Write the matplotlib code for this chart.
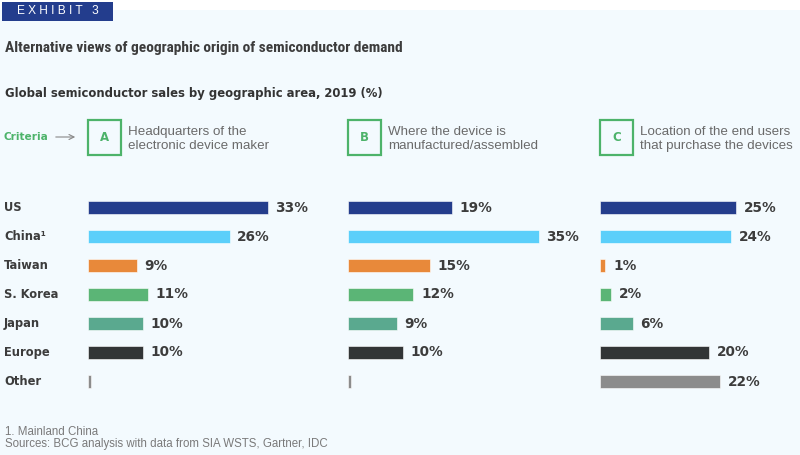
import matplotlib.pyplot as plt
import matplotlib.transforms as mtransforms
from matplotlib.patches import Rectangle, FancyArrowPatch

# data read from the exhibit
regions = ["US", "China\u00b9", "Taiwan", "S. Korea", "Japan", "Europe", "Other"]
colors = ["#243d8c", "#5bcffa", "#e8893a", "#5bb576", "#5aa98f", "#323536", "#8c8c8c"]
hq_maker = [33, 26, 9, 11, 10, 10, 0.6]
manufactured = [19, 35, 15, 12, 9, 10, 0.6]
end_users = [25, 24, 1, 2, 6, 20, 22]
hq_labels = ["33%", "26%", "9%", "11%", "10%", "10%", ""]
mfg_labels = ["19%", "35%", "15%", "12%", "9%", "10%", ""]
end_labels = ["25%", "24%", "1%", "2%", "6%", "20%", "22%"]

criteria = [
    ("A", "Headquarters of the\nelectronic device maker"),
    ("B", "Where the device is\nmanufactured/assembled"),
    ("C", "Location of the end users\nthat purchase the devices"),
]

BG = "#f3fafe"
TXT = "#3c3c3c"
GREEN = "#4db36a"
W, H = 800, 455


def fx(x):
    return x / W


def fy(y):
    return 1 - y / H


fig = plt.figure(figsize=(8, 4.55), dpi=100)
fig.patch.set_facecolor("white")
fig.patches.append(Rectangle((0, 0), 1, fy(10), transform=fig.transFigure,
                             facecolor=BG, edgecolor="none", zorder=-5))

# exhibit tag
fig.patches.append(Rectangle((fx(2), fy(21)), fx(111), 19 / H, transform=fig.transFigure,
                             facecolor="#233d8d", edgecolor="none", zorder=1))
fig.text(fx(58), fy(11.5), "E X H I B I T   3", color="white", fontsize=8.6,
         family="Liberation Sans", ha="center", va="center")

fig.text(fx(5), fy(48), "Alternative views of geographic origin of semiconductor demand",
         fontsize=11.1, color=TXT, weight="bold", stretch="condensed",
         family=["Noto Sans Condensed", "Roboto Condensed", "Open Sans Condensed",
                 "Liberation Sans Narrow", "DejaVu Sans Condensed", "Noto Sans"],
         ha="left", va="center")
fig.text(fx(5), fy(93), "Global semiconductor sales by geographic area, 2019 (%)",
         fontsize=8.4, color="#333333", weight="bold", family="DejaVu Sans",
         ha="left", va="center")

# criteria row
fig.text(fx(3), fy(137), "Criteria", fontsize=7.6, color=GREEN, weight="bold",
         family="DejaVu Sans", ha="left", va="center")
fig.patches.append(FancyArrowPatch((fx(53), fy(137)), (fx(78), fy(137)),
                                   transform=fig.transFigure, arrowstyle="->",
                                   mutation_scale=9, color="#888888", lw=0.8))

panel_x = [88, 348, 600]
for x0, (letter, desc) in zip(panel_x, criteria):
    fig.patches.append(Rectangle((fx(x0), fy(155)), fx(33), 35 / H, transform=fig.transFigure,
                                 facecolor="none", edgecolor=GREEN, lw=1.6))
    fig.text(fx(x0 + 16.5), fy(137.5), letter, fontsize=8.5, color=GREEN, weight="bold",
             family="DejaVu Sans", ha="center", va="center")
    fig.text(fx(x0 + 40), fy(139), desc, fontsize=9.6, color="#6a6a6a",
             family="Liberation Sans", ha="left", va="center", linespacing=1.3)

# bar panels
scale = 5.45  # px per percentage point
xmax = 36
series = [(hq_maker, hq_labels), (manufactured, mfg_labels), (end_users, end_labels)]
axes = []
for x0, (vals, labs) in zip(panel_x, series):
    ax = fig.add_axes([fx(x0), fy(396), scale * xmax / W, 203 / H], zorder=2)
    ax.set_xlim(0, xmax)
    ax.set_ylim(6.5, -0.5)
    ax.axis("off")
    ax.patch.set_alpha(0)
    ypos = range(len(regions))
    ax.barh(ypos, vals, height=0.42, color=colors, edgecolor="white", linewidth=0.4)
    for y, v, lab in zip(ypos, vals, labs):
        if lab:
            ax.annotate(lab, (v, y), xytext=(5.5, 0), textcoords="offset points",
                        ha="left", va="center", fontsize=9.8, weight="bold",
                        color=TXT, family="DejaVu Sans", annotation_clip=False)
    axes.append(ax)

trans = mtransforms.blended_transform_factory(fig.transFigure, axes[0].transData)
for y, name in enumerate(regions):
    fig.text(fx(4), y, name, transform=trans, fontsize=8.3, weight="bold",
             color=TXT, family="DejaVu Sans", ha="left", va="center")

fig.text(fx(5), fy(432), "1. Mainland China", fontsize=8.3, color="#7a7a7a",
         family="Liberation Sans", ha="left", va="center")
fig.text(fx(5), fy(444.5), "Sources: BCG analysis with data from SIA WSTS, Gartner, IDC",
         fontsize=8.3, color="#7a7a7a", family="Liberation Sans", ha="left", va="center")

fig.savefig("out.png", dpi=100, facecolor=fig.get_facecolor())
